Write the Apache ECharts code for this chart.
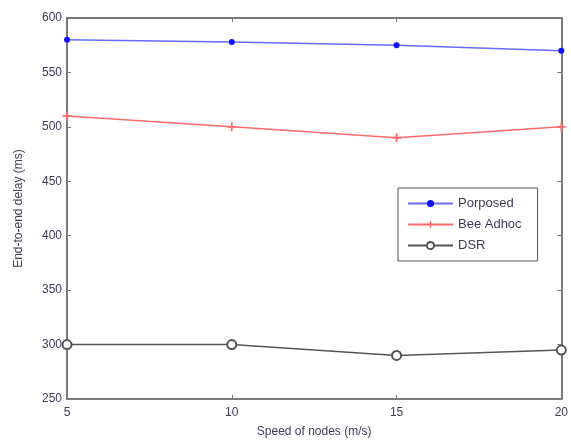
<!DOCTYPE html>
<html>
<head>
<meta charset="utf-8">
<script src="https://cdn.jsdelivr.net/npm/echarts@6/dist/echarts.min.js"></script>
<style>
  html, body { margin: 0; padding: 0; background: #fff; }
  #chart { width: 571px; height: 443px; }
</style>
</head>
<body>
<div id="chart"></div>
<script>
// ---------- 数据 ----------
var speeds   = [5, 10, 15, 20];
var proposed = [580, 578, 575, 570];
var beeAdhoc = [510, 500, 490, 500];
var dsr      = [300, 300, 290, 295];

function pairs(vals) {
  return speeds.map(function (s, i) { return [s, vals[i]]; });
}

var axisGray = '#7a7a7a';
var txt = '#3c3c55';
var plus = 'path://M4,0 L6,0 L6,4 L10,4 L10,6 L6,6 L6,10 L4,10 L4,6 L0,6 L0,4 L4,4 Z';

var chart = echarts.init(document.getElementById('chart'));

var tickStyle = { show: true, inside: true, length: 4, lineStyle: { color: axisGray } };

chart.setOption({
  animation: false,
  textStyle: { fontFamily: 'Liberation Sans, Arial, sans-serif' },
  grid: { left: 67, right: 9, top: 18, bottom: 44 },
  legend: {
    orient: 'vertical',
    left: 398,
    top: 188,
    padding: [9, 16, 9, 9],
    itemGap: 8,
    itemWidth: 45,
    itemHeight: 9,
    borderColor: '#555',
    borderWidth: 1,
    backgroundColor: '#fff',
    textStyle: { color: txt, fontSize: 13 },
    data: ['Porposed', 'Bee Adhoc', 'DSR']
  },
  xAxis: [
    {
      type: 'value', min: 5, max: 20, interval: 5,
      name: 'Speed of nodes (m/s)', nameLocation: 'middle', nameGap: 27,
      nameTextStyle: { color: txt, fontSize: 12 },
      axisLine: { lineStyle: { color: axisGray, width: 2 } },
      axisTick: tickStyle,
      axisLabel: { color: txt, fontSize: 12, margin: 8 },
      splitLine: { show: false }
    },
    {
      type: 'value', min: 5, max: 20, interval: 5, position: 'top',
      axisLine: { show: true, lineStyle: { color: axisGray, width: 2 } },
      axisTick: tickStyle,
      axisLabel: { show: false },
      splitLine: { show: false }
    }
  ],
  yAxis: [
    {
      type: 'value', min: 250, max: 600, interval: 50,
      name: 'End-to-end delay (ms)', nameLocation: 'middle', nameGap: 42,
      nameTextStyle: { color: txt, fontSize: 12 },
      axisLine: { show: true, lineStyle: { color: axisGray, width: 2 } },
      axisTick: tickStyle,
      axisLabel: { color: txt, fontSize: 12, margin: 5 },
      splitLine: { show: false }
    },
    {
      type: 'value', min: 250, max: 600, interval: 50, position: 'right',
      axisLine: { show: true, lineStyle: { color: axisGray, width: 2 } },
      axisTick: tickStyle,
      axisLabel: { show: false },
      splitLine: { show: false }
    }
  ],
  series: [
    {
      name: 'Porposed', type: 'line', data: pairs(proposed),
      symbol: 'circle', symbolSize: 6,
      lineStyle: { color: '#6a6aff', width: 1.5 },
      itemStyle: { color: '#1010ff' }
    },
    {
      name: 'Bee Adhoc', type: 'line', data: pairs(beeAdhoc),
      symbol: plus, symbolSize: 9,
      lineStyle: { color: '#ff6a6a', width: 1.5 },
      itemStyle: { color: '#ff6a6a' }
    },
    {
      name: 'DSR', type: 'line', data: pairs(dsr),
      symbol: 'emptyCircle', symbolSize: 9,
      lineStyle: { color: '#555', width: 1.5 },
      itemStyle: { color: '#555', borderWidth: 1.5 }
    }
  ]
});
</script>
</body>
</html>
